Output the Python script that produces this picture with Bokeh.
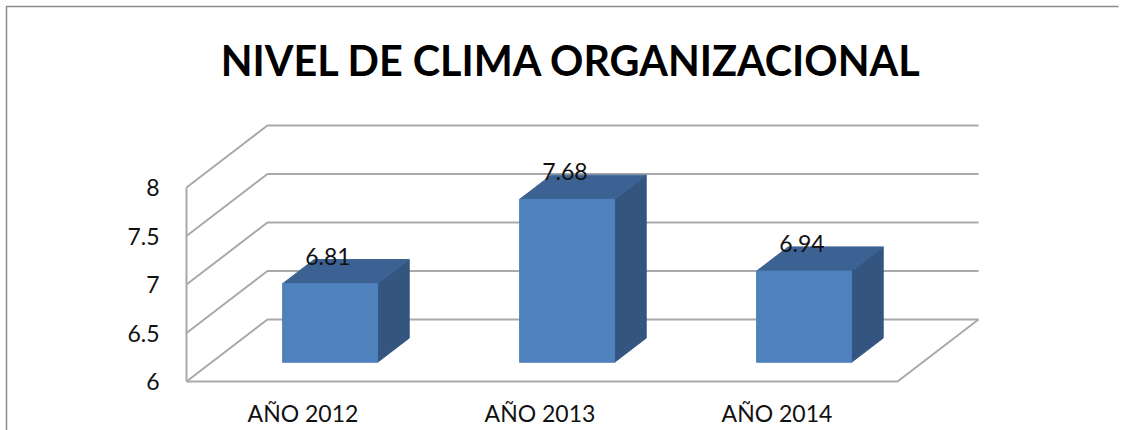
from bokeh.plotting import figure
from bokeh.models import FixedTicker, Label
from bokeh.core.properties import value
from bokeh.embed import file_html
from bokeh.resources import INLINE

categories = ["AÑO 2012", "AÑO 2013", "AÑO 2014"]
nivel = [6.81, 7.68, 6.94]
y_ticks = [6, 6.5, 7, 7.5, 8]
y_labels = ["6", "6.5", "7", "7.5", "8"]
title_text = "NIVEL DE CLIMA ORGANIZACIONAL"

# layout of the picture, in pixels of the figure
W, H = 1127, 430
FLOOR_L = 186            # where x=0 is drawn
FLOOR_B = 381            # where y=6 is drawn
UX, UY = 237.0, 97.0     # pixels per category / per value unit

# oblique projection, expressed in data units
DX, DY = 81 / UX, 62 / UY
N = len(categories)
D0, D1 = 0.31, 0.70      # bar front/back depth
BAR = 95 / UX
FONT = "Lato"
GRID = "#a9a9a9"
y0 = y_ticks[0]

def proj(x, y, d):
    return x + DX * d, y + DY * d

def sx(px):
    return (px - FLOOR_L) / UX

def sy(py):
    return y0 + (FLOOR_B - py) / UY

p = figure(width=W, height=H, output_backend="svg", toolbar_location=None,
           x_range=(-FLOOR_L / UX, (W - FLOOR_L) / UX),
           y_range=(y0 - (H - FLOOR_B) / UY, y0 + FLOOR_B / UY),
           min_border=0, outline_line_color=None,
           background_fill_color="white", border_fill_color="white")
p.grid.visible = False

p.yaxis.fixed_location = 0
p.yaxis.ticker = FixedTicker(ticks=y_ticks)
p.yaxis.major_label_overrides = {t: l for t, l in zip(y_ticks, y_labels)}
p.yaxis.axis_line_color = None
p.yaxis.major_tick_line_color = None
p.yaxis.minor_tick_line_color = None
p.yaxis.major_label_text_font = FONT
p.yaxis.major_label_text_font_size = "23px"
p.yaxis.major_label_text_color = "#111111"
p.yaxis.major_label_standoff = 21

centers = [i + 0.5 for i in range(N)]
label_pos = [c - 2 / UX for c in centers]
p.xaxis.fixed_location = y0
p.xaxis.ticker = FixedTicker(ticks=label_pos)
p.xaxis.major_label_overrides = {c: l for c, l in zip(label_pos, categories)}
p.xaxis.axis_line_color = None
p.xaxis.major_tick_line_color = None
p.xaxis.minor_tick_line_color = None
p.xaxis.major_label_text_font = FONT
p.xaxis.major_label_text_font_size = "23px"
p.xaxis.major_label_text_color = "#111111"
p.xaxis.major_label_standoff = 11

# chart border: top and left edges only reach the picture
p.line([sx(6), sx(6), sx(1118)], [sy(430), sy(6), sy(6)], line_color="#8a8a8a", line_width=1.5)

# walls and gridlines
for t in y_ticks:
    bx, by = proj(0, t, 1)
    p.line([0, bx, N + DX], [t, by, by], line_color=GRID, line_width=2)
p.line([0, 0], [y_ticks[0], y_ticks[-1]], line_color=GRID, line_width=2)
# floor
p.line([0, N, N + DX], [y0, y0, y0 + DY], line_color=GRID, line_width=2)

# 3D bars
for c, v in zip(centers, nivel):
    l, r = c - BAR / 2, c + BAR / 2
    fl = proj(l, y0, D0)[0]; fr = proj(r, y0, D0)[0]
    bl = proj(l, y0, D1)[0]; br = proj(r, y0, D1)[0]
    fb = proj(l, y0, D0)[1]; ft = proj(l, v, D0)[1]
    bb = proj(l, y0, D1)[1]; bt = proj(l, v, D1)[1]
    p.patch([fr, br, br, fr], [fb, bb, bt, ft], fill_color="#33557f", line_color="#33557f")
    p.patch([fl, fr, br, bl], [ft, ft, bt, bt], fill_color="#3c6293", line_color="#3c6293")
    p.patch([fl, fr, fr, fl], [fb, fb, ft, ft], fill_color="#4f81bd", line_color="#4f81bd")
    tx, ty = proj(c, v, (D0 + D1) / 2)
    p.text([tx - 0.076], [ty + 0.16], text=[f"{v:g}"], text_font=value(FONT), text_font_size="23px",
           text_align="center", text_baseline="middle", text_color="#111111")

p.add_layout(Label(x=sx(571), y=sy(59), text=title_text, text_font=FONT, text_font_size="41.3px",
                   text_font_style="bold", text_color="#000000", text_align="center",
                   text_baseline="middle"))

open("out.html", "w").write(file_html(p, INLINE))
